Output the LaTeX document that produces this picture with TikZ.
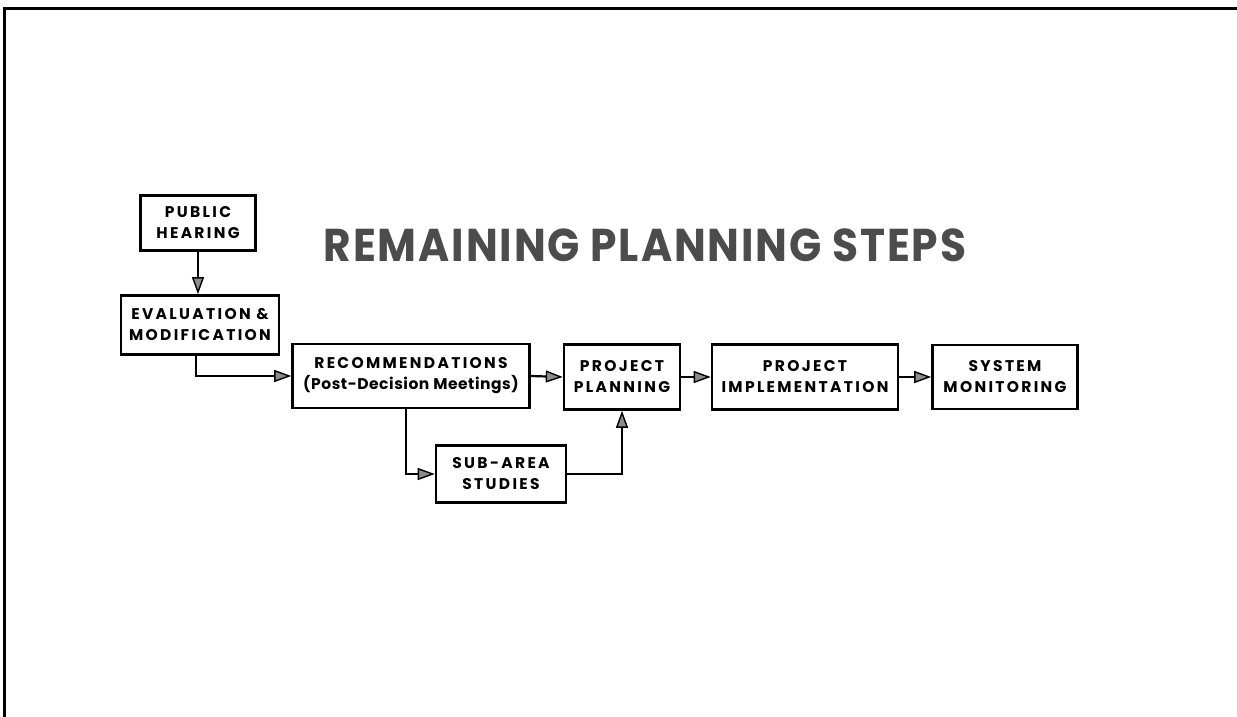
\documentclass[tikz,border=0pt]{standalone}
\usepackage{fontspec}
\setmainfont{Poppins}
\newfontfamily\boxfont{Poppins}[LetterSpace=15]
\newfontfamily\headfont{Poppins}[LetterSpace=4,FakeStretch=0.92]
\usetikzlibrary{arrows.meta}

\begin{document}
\begin{tikzpicture}[x=1pt,y=-1pt,line width=2.2pt,
  every node/.style={draw,line width=2.6pt,align=center,inner sep=0pt,
    font=\boxfont\bfseries\fontsize{15.5}{21}\selectfont},
  >={Triangle[length=17pt,width=12pt,fill=black!45,line width=1.4pt]}]
\useasboundingbox (0,0) rectangle (1237,717);
\draw[line width=3pt] (4,717) -- (4,9) -- (1237,9);
\node[draw=none,text=black!70,font=\headfont\bfseries\fontsize{46}{50}\selectfont] at(645,245)(title){REMAINING PLANNING STEPS};
\node[minimum width=115pt,minimum height=55pt] at(198,223)(ph){PUBLIC\\HEARING};
\node[minimum width=158pt,minimum height=59pt] at(200,325)(em){EVALUATION \&\\MODIFICATION};
\node[minimum width=237pt,minimum height=64pt] at(411,376)(rec){RECOMMENDATIONS\\{\addfontfeature{LetterSpace=3.5}(Post-Decision Meetings)}};
\node[minimum width=116pt,minimum height=65pt] at(622,377)(pp){PROJECT\\PLANNING};
\node[minimum width=186pt,minimum height=65pt] at(805,377)(pi){PROJECT\\IMPLEMENTATION};
\node[minimum width=145pt,minimum height=64pt] at(1005,377)(sm){SYSTEM\\MONITORING};
\node[minimum width=130pt,minimum height=57pt] at(501,474)(sa){SUB-AREA\\STUDIES};
\draw[->](ph.south)--(ph.south|-em.north);
\draw[->]([xshift=-4pt]em.south)|-(rec.west);
\draw[->](rec.east)--(pp.west);
\draw[->](pp.east)--(pi.west);
\draw[->](pi.east)--(sm.west);
\draw[->]([xshift=-5pt]rec.south)|-(sa.west);
\draw[->](sa.east)-|(pp.south);
\end{tikzpicture}
\end{document}
